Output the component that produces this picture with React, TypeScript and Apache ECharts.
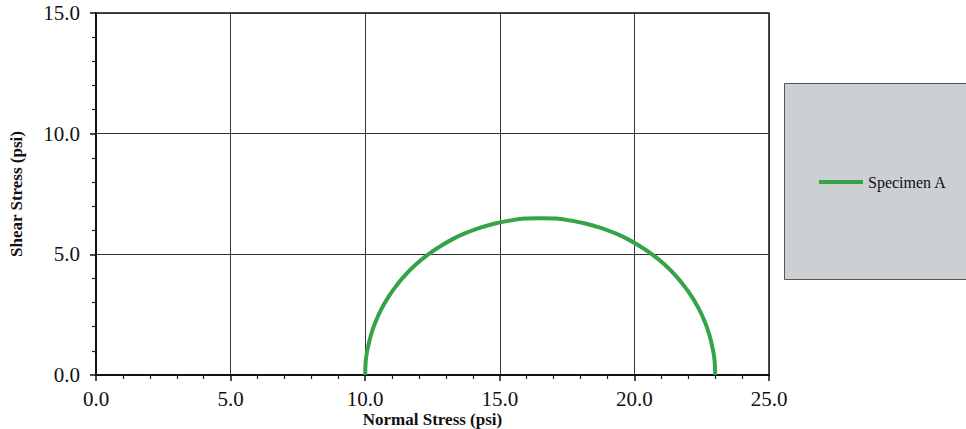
import React, { useEffect, useRef } from "react";
import * as echarts from "echarts";

const seriesName = "Specimen A";
// Mohr circle points (normal stress, shear stress), psi
const normalStress = [
  10.0, 10.02, 10.1, 10.22, 10.39, 10.61, 10.87, 11.18, 11.52, 11.9, 12.32, 12.77, 13.25, 13.75, 14.28, 14.82, 15.37, 15.93,
  16.5, 17.07, 17.63, 18.18, 18.72, 19.25, 19.75, 20.23, 20.68, 21.1, 21.48, 21.82, 22.13, 22.39, 22.61, 22.78, 22.9, 22.98, 23.0,
];
const shearStress = [
  0.0, 0.57, 1.13, 1.68, 2.22, 2.75, 3.25, 3.73, 4.18, 4.6, 4.98, 5.32, 5.63, 5.89, 6.11, 6.28, 6.4, 6.48,
  6.5, 6.48, 6.4, 6.28, 6.11, 5.89, 5.63, 5.32, 4.98, 4.6, 4.18, 3.73, 3.25, 2.75, 2.22, 1.68, 1.13, 0.57, 0.0,
];
const xTicks = { min: 0, max: 25, interval: 5 };
const yTicks = { min: 0, max: 15, interval: 5 };
const xTitle = "Normal Stress (psi)";
const yTitle = "Shear Stress (psi)";

export default function App() {
  const ref = useRef<HTMLDivElement>(null);
  useEffect(() => {
    if (!ref.current) return;
    const chart = echarts.init(ref.current, undefined, { renderer: "svg" });
    const font = "'Liberation Serif', 'Times New Roman', serif";
    chart.setOption({
      animation: false,
      backgroundColor: "#fff",
      grid: {
        left: 96,
        right: 197,
        top: 13,
        bottom: 54,
        containLabel: false,
        outerBoundsMode: "none",
        show: true,
        borderColor: "#111",
        borderWidth: 1.5,
        backgroundColor: "transparent",
      },
      graphic: [
        {
          type: "rect",
          shape: { x: 784.5, y: 83.5, width: 185, height: 196 },
          style: { fill: "#ccd0d3", stroke: "#555", lineWidth: 1 },
          z: 0,
        },
      ],
      legend: {
        left: 819,
        top: 174,
        padding: 0,
        itemWidth: 44,
        itemHeight: 4,
        icon: "rect",
        itemGap: 5,
        textStyle: { fontFamily: font, fontSize: 16, color: "#111" },
        data: [seriesName],
        z: 5,
      },
      xAxis: {
        type: "value",
        min: xTicks.min,
        max: xTicks.max,
        interval: xTicks.interval,
        name: xTitle,
        nameLocation: "middle",
        nameGap: 36,
        nameMoveOverlap: false,
        nameTextStyle: { fontFamily: font, fontSize: 17, fontWeight: "bold", color: "#111" },
        axisLine: { show: true, lineStyle: { color: "#111", width: 2 } },
        axisTick: { show: true, inside: false, length: 6, lineStyle: { color: "#111", width: 1.5 } },
        minorTick: { show: true, splitNumber: 5, length: 4, lineStyle: { color: "#222", width: 1.2 } },
        axisLabel: {
          fontFamily: font,
          fontSize: 21,
          color: "#111",
          margin: 13,
          formatter: (v: number) => v.toFixed(1),
        },
        splitLine: { show: true, lineStyle: { color: "#333", width: 1 } },
      },
      yAxis: {
        type: "value",
        min: yTicks.min,
        max: yTicks.max,
        interval: yTicks.interval,
        name: yTitle,
        nameLocation: "middle",
        nameGap: 71,
        nameMoveOverlap: false,
        nameTextStyle: { fontFamily: font, fontSize: 17, fontWeight: "bold", color: "#111" },
        axisLine: { show: true, lineStyle: { color: "#111", width: 2 } },
        axisTick: { show: true, inside: false, length: 6, lineStyle: { color: "#111", width: 1.5 } },
        minorTick: { show: true, splitNumber: 5, length: 4, lineStyle: { color: "#222", width: 1.2 } },
        axisLabel: {
          fontFamily: font,
          fontSize: 21,
          color: "#111",
          margin: 16,
          formatter: (v: number) => v.toFixed(1),
        },
        splitLine: { show: true, lineStyle: { color: "#333", width: 1 } },
      },
      series: [
        {
          name: seriesName,
          type: "line",
          smooth: true,
          showSymbol: false,
          symbol: "none",
          data: normalStress.map((x, i) => [x, shearStress[i]]),
          lineStyle: { color: "#35a348", width: 4 },
          itemStyle: { color: "#35a348" },
          z: 3,
        },
      ],
    });
    return () => chart.dispose();
  }, []);
  return <div ref={ref} style={{ width: 966, height: 429, position: "absolute", left: 0, top: 0 }} />;
}
